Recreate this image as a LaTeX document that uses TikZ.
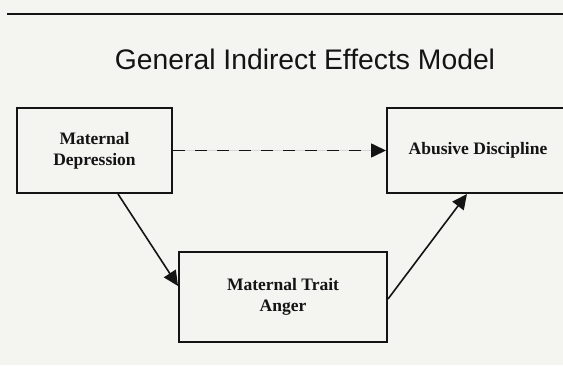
\documentclass[tikz,border=0pt]{standalone}
\usepackage{fontspec}
\setmainfont{Liberation Serif}
\newfontfamily\titlefont{Liberation Sans}
\usetikzlibrary{arrows.meta,positioning}
\definecolor{slidebg}{RGB}{244,244,241}
\definecolor{ink}{RGB}{20,20,20}
\tikzset{
  varbox/.style={rectangle, draw=ink, line width=2pt, align=center, text=ink, font=\fontsize{17.5}{21}\selectfont\bfseries},
  effect/.style={-{Triangle[length=15pt,width=14pt]}, draw=ink, fill=ink, line width=1.6pt}
}

\begin{document}
\begin{tikzpicture}[x=1pt, y=1pt, node distance=2cm]
    % Slide area
    \useasboundingbox (0,0) rectangle (563,365);
    \fill[slidebg] (0,0) rectangle (563,365);
    \draw[ink, line width=2.4pt] (7,351) -- (570,351);

    % Nodes
    \node (title) [anchor=base, text=ink, font=\titlefont\fontsize{28.3}{34}\selectfont] at (305,295) {General Indirect Effects Model};
    \node (depr) [varbox, minimum width=155pt, minimum height=85pt] at (94.5,214.5) {Maternal\\Depression};
    \node (abuse) [varbox, minimum width=182pt, minimum height=85pt, right=213pt of depr] {Abusive Discipline};
    \node (anger) [varbox, minimum width=208pt, minimum height=90pt, below right=57pt and 5pt of depr] {Maternal Trait\\Anger};

    % Arrows
    \draw [effect, dash pattern=on 12pt off 10pt] (depr) -- (abuse);
    \draw [effect] ([xshift=23.5pt]depr.south) -- ([yshift=11pt]anger.west);
    \draw [effect] ([yshift=-2pt]anger.east) -- ([xshift=-11pt]abuse.south);
\end{tikzpicture}
\end{document}
